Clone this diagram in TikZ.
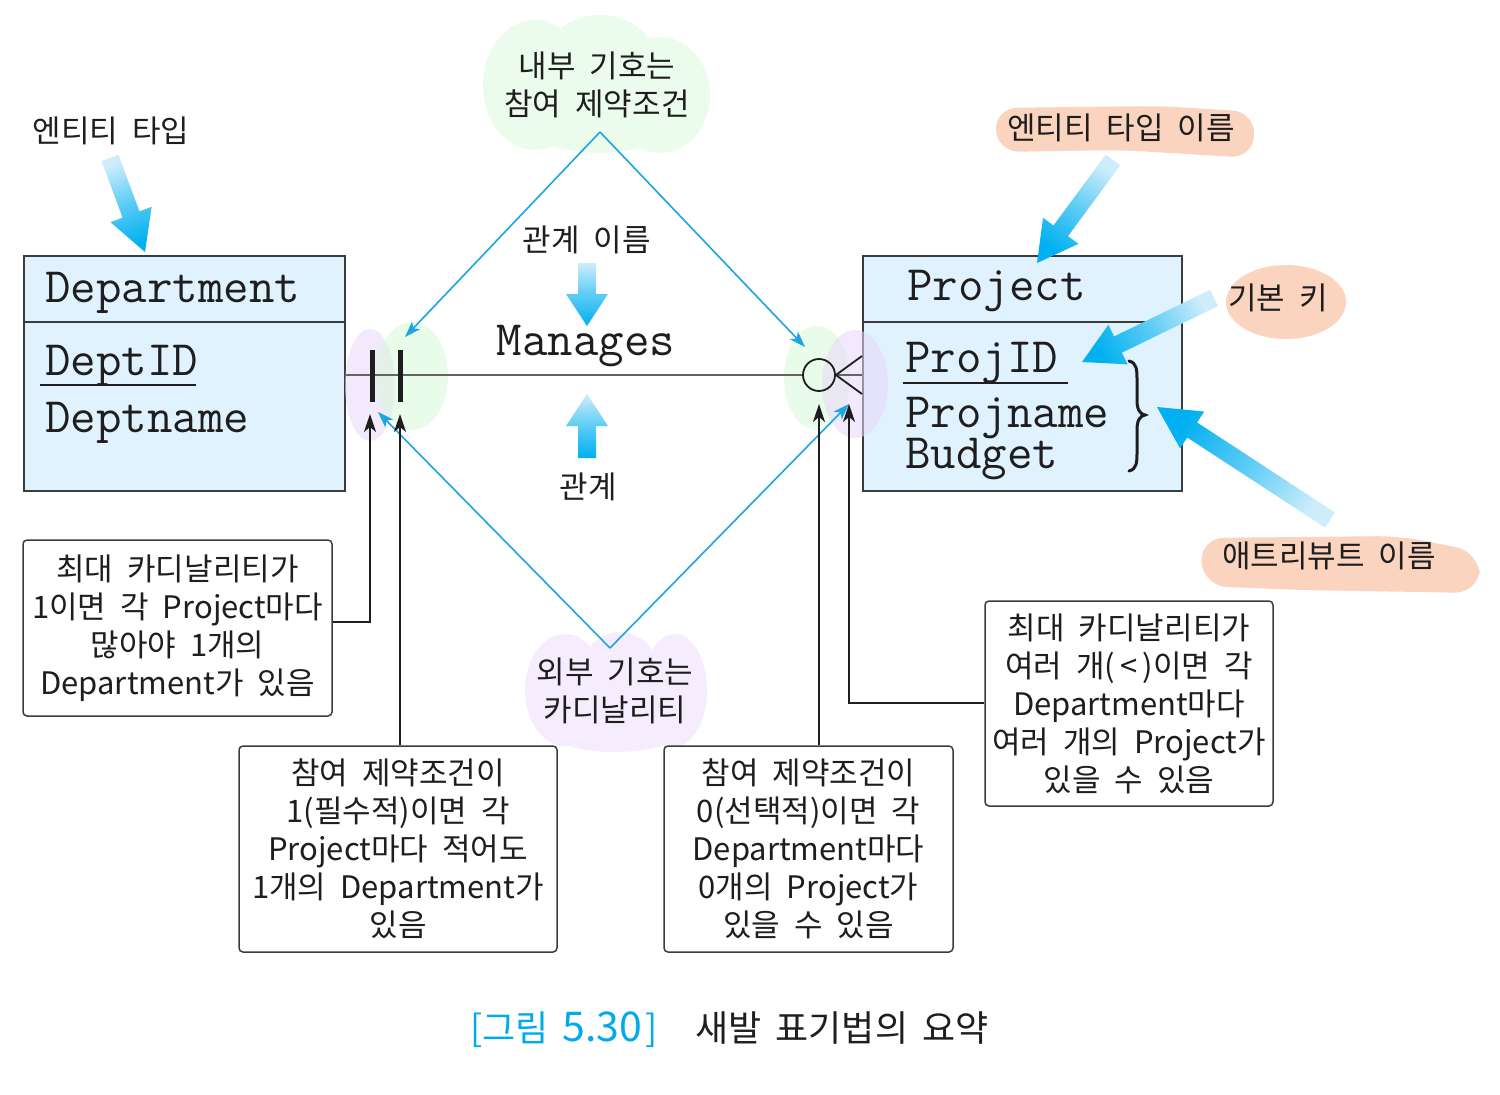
\documentclass[tikz,border=0pt]{standalone}
\usepackage{fontspec}
\newfontfamily\kr{Noto Sans CJK KR}
\usetikzlibrary{arrows.meta,calc}
\definecolor{boxfill}{RGB}{224,242,253}
\definecolor{boxline}{RGB}{60,60,60}
\definecolor{bluel}{RGB}{28,165,226}
\definecolor{arrdark}{RGB}{0,176,240}
\definecolor{arrlight}{RGB}{205,237,251}
\definecolor{hlgreen}{RGB}{236,252,236}
\definecolor{hllav}{RGB}{245,237,253}
\definecolor{hlgreenb}{RGB}{215,248,215}
\definecolor{hllavb}{RGB}{232,215,250}
\definecolor{peach}{RGB}{250,212,190}
\definecolor{capblue}{RGB}{0,170,235}
\definecolor{txt}{RGB}{30,30,30}
\definecolor{relgray}{RGB}{100,100,100}

\newcommand\krfont{\kr\fontsize{31}{38}\selectfont\spaceskip=14pt plus 2pt\relax}
\newcommand\capfont{\kr\fontsize{36}{36}\selectfont\spaceskip=14pt\relax}

% #1,#2 tail  #3,#4 tip  #5 half shaft  #6 half head  #7 head length  #8 shading offset
\newcommand\fatarrow[8]{%
  \pgfmathsetmacro\fdx{#3-#1}%
  \pgfmathsetmacro\fdy{#4-#2}%
  \pgfmathsetmacro\fang{atan2(-\fdy,\fdx)}%
  \pgfmathsetmacro\fsa{\fang-90+#8}%
  \pgfmathsetmacro\flen{veclen(\fdx,\fdy)}%
  \pgfmathsetmacro\fneck{\flen-#7}%
  \begin{scope}[shift={(#1,#2)},rotate=\fang,x=1pt,y=1pt]
    \shade[top color=arrdark,bottom color=arrlight,middle color=arrdark!55!arrlight,shading angle=\fsa]
      (0,-#5) -- (\fneck,-#5) -- (\fneck,-#6) -- (\flen,0) -- (\fneck,#6)
      -- (\fneck,#5) -- (0,#5) -- cycle;
  \end{scope}}

\tikzset{
  entity/.style={draw=boxline, line width=1.6pt, fill=boxfill, inner sep=0pt, anchor=north west},
  mono/.style={font=\ttfamily\fontsize{49.5}{49.5}\selectfont, text=txt, inner sep=0pt, anchor=base west},
  kor/.style={font=\krfont, text=txt, align=center, inner sep=0pt},
  callout/.style={kor, draw=boxline, line width=1.5pt, rounded corners=4pt, fill=white},
  blueline/.style={draw=bluel, line width=1.6pt, -{Stealth[length=16pt,width=11pt,inset=4pt]}},
  blackarr/.style={draw=txt, line width=1.4pt, -{Stealth[length=18pt,width=12pt,inset=5pt]}},
  relline/.style={draw=relgray, line width=2.6pt},
  notation/.style={draw=txt, line width=1.8pt},
}

\begin{document}
\begin{tikzpicture}[x=1pt,y=-1pt]
\useasboundingbox[fill=white] (0,0) rectangle (1500,1095);

% ---------- label highlights ----------
\fill[hlgreen] (535,85) ellipse [x radius=52, y radius=65];
\fill[hlgreen] (600,70) ellipse [x radius=60, y radius=55];
\fill[hlgreen] (660,95) ellipse [x radius=50, y radius=58];
\fill[hlgreen] (600,125) ellipse [x radius=70, y radius=28];

\fill[hllav] (565,690) ellipse [x radius=40, y radius=56];
\fill[hllav] (620,690) ellipse [x radius=45, y radius=58];
\fill[hllav] (675,690) ellipse [x radius=32, y radius=56];
\fill[hllav] (615,728) ellipse [x radius=70, y radius=24];

\fill[peach, rounded corners=22pt] (995,108) -- (1160,106) -- (1255,112) -- (1253,158) -- (1120,150) -- (997,152) -- cycle;
\fill[peach] (1286,302) ellipse [x radius=60, y radius=37];
\fill[peach, rounded corners=24pt] (1200,538) -- (1400,536) -- (1480,552) -- (1479,593) -- (1300,590) -- (1203,586) -- cycle;

% ---------- entities ----------
\node[entity, minimum width=321pt, minimum height=235pt] (dept) at (23,255) {};
\draw[draw=boxline, line width=1.6pt] (dept.west |- 0,322) -- (dept.east |- 0,322);
\node[mono] (deptTitle) at (45,302) {Department};
\node[mono] (deptID) at (45,375) {DeptID};
\draw[draw=txt, line width=1.4pt] (40,385) -- (196,385);
\node[mono] (deptName) at (45,432) {Deptname};

\node[entity, minimum width=319pt, minimum height=235pt] (proj) at (862,255) {};
\draw[draw=boxline, line width=1.6pt] (proj.west |- 0,322) -- (proj.east |- 0,322);
\node[mono] (projTitle) at (907,300) {Project};
\node[mono] (projID) at (905,372) {ProjID};
\draw[draw=txt, line width=1.4pt] (903,383) -- (1068,383);
\node[mono] (projName) at (905,427) {Projname};
\node[mono] (projBudget) at (905,468) {Budget};
\draw[draw=txt, line width=3pt, line cap=round]
  (1129,361) .. controls (1137,363) and (1137,370) .. (1137,380) -- (1137,400)
  .. controls (1137,410) and (1140,414) .. (1145,415)
  .. controls (1140,416) and (1137,420) .. (1137,430) -- (1137,452)
  .. controls (1137,462) and (1137,469) .. (1129,471);

% ---------- symbol highlights ----------
\fill[hllavb, fill opacity=0.55] (370,385) ellipse [x radius=25, y radius=56];
\fill[hlgreenb, fill opacity=0.55] (412,376) ellipse [x radius=36, y radius=54];
\fill[hlgreenb, fill opacity=0.55] (817,378) ellipse [x radius=33, y radius=52];
\fill[hllavb, fill opacity=0.55] (855,384) ellipse [x radius=33, y radius=54];

% ---------- relationship ----------
\coordinate (dR) at (dept.east |- 0,375);
\coordinate (pL) at (proj.west |- 0,375);
\node[circle, draw=txt, line width=1.8pt, minimum size=32pt, inner sep=0pt] (opt) at (819,375) {};
\draw[relline] (dR) -- (opt.west);
\draw[relline] (opt.east) -- (pL);
\draw[notation] (862,356) -- (opt.east) -- (862,394);
\draw[draw=txt, line width=5pt] (372,350) -- (372,402);
\draw[draw=txt, line width=5pt] (400,350) -- (400,402);
\node[mono, anchor=base] (rel) at (586,355) {Manages};

% ---------- labels ----------
\node[kor] (inner) at (597,85) {내부 기호는\\참여 제약조건};
\node[kor] (outer) at (615,691) {외부 기호는\\카디날리티};
\node[kor] (relname) at (587,240) {관계 이름};
\node[kor] (relword) at (588,487) {관계};
\node[kor] (etype) at (111,131) {엔티티 타입};
\node[kor] (etypename) at (1121,128) {엔티티 타입 이름};
\node[kor] (pkey) at (1278,298) {기본 키};
\node[kor] (attrname) at (1329,556) {애트리뷰트 이름};

% ---------- blue diamond ----------
\coordinate (topV) at (600,132);
\coordinate (botV) at (610,648);
\coordinate (tipL) at (405,337);
\coordinate (tipR) at (805,347);
\coordinate (tipBL) at (378,412);
\coordinate (tipBR) at (849,404);
\draw[blueline] (topV) -- (tipL);
\draw[blueline] (topV) -- (tipR);
\draw[blueline] (botV) -- (tipBL);
\draw[blueline] (botV) -- (tipBR);

% ---------- fat gradient arrows ----------
\fatarrow{587}{263}{587}{326}{9}{21}{32}{0}
\fatarrow{587}{458}{587}{394}{9}{21}{32}{180}
\fatarrow{110}{158}{145}{252}{9}{22}{40}{0}
\fatarrow{1113}{160}{1037}{263}{9}{22}{40}{0}
\fatarrow{1214}{298}{1082}{362}{9}{22}{40}{0}
\fatarrow{1330}{520}{1157}{407}{9}{22}{42}{0}

% ---------- callouts ----------
\node[callout, minimum width=309pt, minimum height=176pt] (c1) at (177.5,628)
  {최대 카디날리티가\\1이면 각 Project마다\\많아야 1개의\\Department가 있음};
\node[callout, minimum width=318pt, minimum height=206pt] (c2) at (398,849)
  {참여 제약조건이\\1(필수적)이면 각\\Project마다 적어도\\1개의 Department가\\있음};
\node[callout, minimum width=289pt, minimum height=206pt] (c3) at (808.5,849)
  {참여 제약조건이\\0(선택적)이면 각\\Department마다\\0개의 Project가\\있을 수 있음};
\node[callout, minimum width=288pt, minimum height=205pt] (c4) at (1129,703.5)
  {최대 카디날리티가\\여러 개(\,<\,)이면 각\\Department마다\\여러 개의 Project가\\있을 수 있음};

\coordinate (a1) at (370,414);
\coordinate (a2) at (400,414);
\coordinate (a3) at (819,404);
\coordinate (a4) at (849,404);
\draw[blackarr] (c1.east |- 0,622) -| (a1);
\draw[blackarr] (c2.north -| a2) -- (a2);
\draw[blackarr] (c3.north -| a3) -- (a3);
\draw[blackarr] (c4.west |- 0,703) -| (a4);

% ---------- caption ----------
\node[font=\capfont, text=txt, anchor=base west, inner sep=0pt] (caption) at (470,1041)
  {\textcolor{capblue}{[그림\hspace{14pt}{\fontsize{41}{41}\selectfont 5.30}\hspace{3pt}]}\hspace{38pt}새발 표기법의 요약};
\end{tikzpicture}
\end{document}
